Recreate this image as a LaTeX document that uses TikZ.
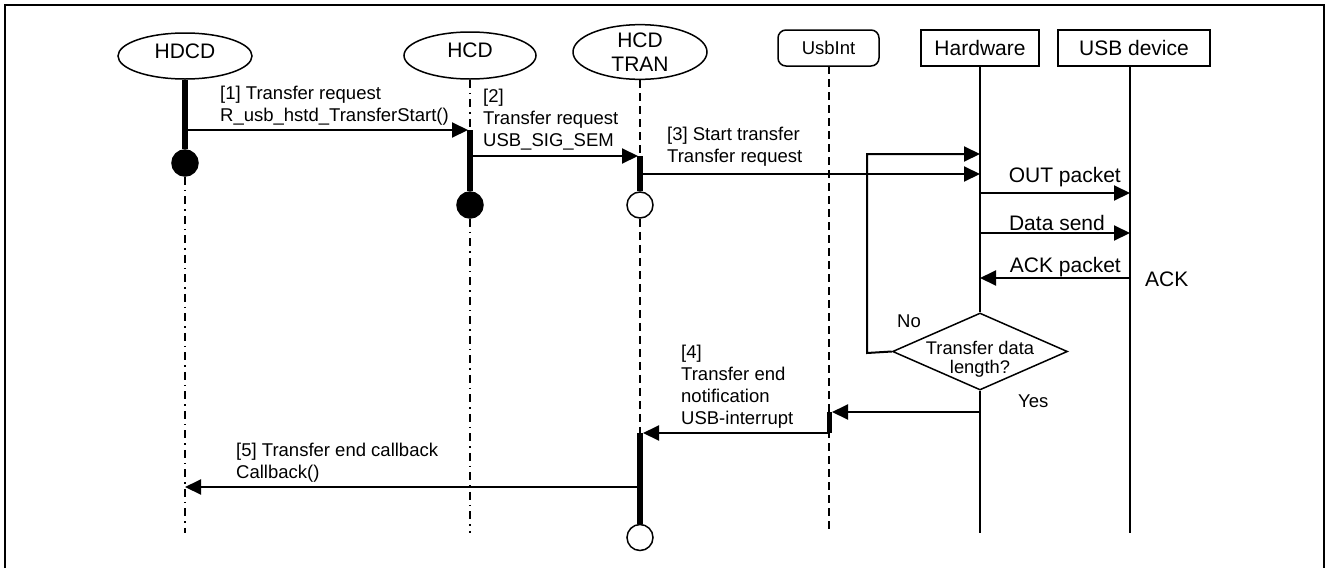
\documentclass[tikz,border=0pt]{standalone}
\usepackage{fontspec}
\setmainfont{Liberation Sans}
\usetikzlibrary{arrows.meta,shapes.geometric}

\tikzset{
  lbl/.style={font=\fontsize{18.5}{22}\selectfont, inner sep=0pt, anchor=base west, align=left},
  pkt/.style={font=\fontsize{21}{24}\selectfont, inner sep=0pt},
  actor/.style={draw, line width=1.5pt, ellipse, minimum width=134pt, inner sep=0pt,
                font=\fontsize{21}{24}\selectfont},
  objbox/.style={draw, line width=1.5pt, minimum height=36pt, inner sep=0pt,
                 font=\fontsize{21}{24}\selectfont},
  msg/.style={line width=2pt, -{Triangle[length=16pt,width=15pt]}},
  actbar/.style={line width=5.5pt},
  dashdotline/.style={line width=1.3pt, dash pattern=on 8pt off 5pt on 1.5pt off 5pt},
  dashline/.style={line width=1.3pt, dash pattern=on 8pt off 5pt},
  solidline/.style={line width=1.3pt},
  enddot/.style={circle, draw, line width=1.5pt, minimum size=26pt, inner sep=0pt},
  decision/.style={diamond, draw, line width=1.5pt, minimum width=175pt, minimum height=77pt, inner sep=0pt},
}

\begin{document}
\begin{tikzpicture}[x=1pt,y=-1pt]
  \useasboundingbox (0,0) rectangle (1328,568);
  \fill[white] (0,0) rectangle (1328,568);

  % outer frame (open at the bottom)
  \draw[line width=2.5pt] (5,568) -- (5,5) -- (1324,5) -- (1324,568);

  % lifeline heads
  \node[actor, minimum height=46pt, text depth=10pt] (hdcd) at (185,56) {HDCD};
  \node[actor, minimum width=132pt, minimum height=47pt, text depth=10pt] (hcd) at (470,55.5) {HCD};
  \node[actor, minimum height=54pt, align=center] (tran) at (640,52) {HCD\\TRAN};
  \node[objbox, rounded corners=8pt, minimum width=101pt, font=\fontsize{18.5}{22}\selectfont] (usbint) at (828.5,48) {UsbInt};
  \node[objbox, minimum width=118pt] (hw) at (980,48) {Hardware};
  \node[objbox, minimum width=152pt] (dev) at (1134,48) {USB device};

  % end markers
  \node[enddot, fill=black] (hdcddot) at (185,163) {};
  \node[enddot, fill=black] (hcddot) at (470,205) {};
  \node[enddot, fill=white] (trandotA) at (640,205) {};
  \node[enddot, fill=white] (trandotB) at (640,537.5) {};

  % decision on the hardware lifeline
  \node[decision] (len) at (980,351.5) {};
  \node[font=\fontsize{18.3}{19.5}\selectfont, align=center, inner sep=0pt, anchor=base] (lentext) at (980,373.5) {Transfer data\\length?};

  % lifeline points
  \coordinate (hdcdend) at (185,533);
  \coordinate (hcdact) at (470,130);
  \coordinate (hcdend) at (470,533);
  \coordinate (tranactA) at (640,156);
  \coordinate (tranactB) at (640,433);
  \coordinate (usbtop) at (829,66);
  \coordinate (usbactA) at (829,412);
  \coordinate (usbactB) at (829,433);
  \coordinate (usbend) at (829,533);
  \coordinate (hwtop) at (980,66);
  \coordinate (hwend) at (980,533);
  \coordinate (devtop) at (1130,66);
  \coordinate (devend) at (1130,533);

  % lifelines
  \draw[actbar] (hdcd.south) -- (hdcddot.north);
  \draw[dashdotline] (hdcddot.south) -- (hdcdend);
  \draw[dashdotline] (hcd.south) -- (hcdact);
  \draw[actbar] (hcdact) -- (hcddot.north);
  \draw[dashdotline] (hcddot.south) -- (hcdend);
  \draw[dashline] (tran.south) -- (tranactA);
  \draw[actbar] (tranactA) -- (trandotA.north);
  \draw[dashline] (trandotA.south) -- (tranactB);
  \draw[actbar] (tranactB) -- (trandotB.north);
  \draw[dashline] (usbtop) -- (usbend);
  \draw[line width=5pt] (usbactA) -- (usbactB);
  \draw[solidline] (hwtop) -- (len.north);
  \draw[solidline] (len.south) -- (hwend);
  \draw[solidline] (devtop) -- (devend);

  % message end points
  \coordinate (m1s) at (185,130);   \coordinate (m1e) at (468,130);
  \coordinate (m2s) at (470,156);   \coordinate (m2e) at (638,156);
  \coordinate (m3s) at (643,174);   \coordinate (m3e) at (980,174);
  \coordinate (loopa) at (867,353); \coordinate (loopb) at (867,154);
  \coordinate (loope) at (980,154);
  \coordinate (outs) at (980,193);  \coordinate (oute) at (1130,193);
  \coordinate (dats) at (980,233);  \coordinate (date) at (1130,233);
  \coordinate (acks) at (1130,278); \coordinate (acke) at (980,278);
  \coordinate (ints) at (980,412);  \coordinate (inte) at (832,412);
  \coordinate (m4s) at (829,433);   \coordinate (m4e) at (643,433);
  \coordinate (m5s) at (640,487);   \coordinate (m5e) at (185,487);

  % messages
  \draw[msg] (m1s) -- (m1e);
  \draw[msg] (m2s) -- (m2e);
  \draw[msg] (m3s) -- (m3e);
  \draw[msg] (len.west) -- (loopa) -- (loopb) -- (loope);
  \draw[msg] (outs) -- (oute);
  \draw[msg] (dats) -- (date);
  \draw[msg] (acks) -- (acke);
  \draw[msg] (ints) -- (inte);
  \draw[msg] (m4s) -- (m4e);
  \draw[msg] (m5s) -- (m5e);

  % message labels (anchored at the baseline of the last line)
  \node[lbl] (l1) at (220,121) {[1] Transfer request\\R\_usb\_hstd\_TransferStart()};
  \node[lbl] (l2) at (483,146.5) {[2]\\Transfer request\\USB\_SIG\_SEM};
  \node[lbl] (l3) at (667,162) {[3] Start transfer\\Transfer request};
  \node[lbl] (l4) at (681,424.5) {[4]\\Transfer end\\notification\\USB-interrupt};
  \node[lbl] (l5) at (236,478) {[5] Transfer end callback\\Callback()};
  \node[lbl] (nol) at (897,327.5) {No};
  \node[lbl] (yesl) at (1018,407.5) {Yes};
  \node[pkt, anchor=base east] (outl) at (1121,182) {OUT packet};
  \node[pkt, anchor=base east] (datl) at (1105,230) {Data send};
  \node[pkt, anchor=base east] (ackl) at (1121,272) {ACK packet};
  \node[pkt, anchor=base west] (ackr) at (1145,286) {ACK};
\end{tikzpicture}
\end{document}
